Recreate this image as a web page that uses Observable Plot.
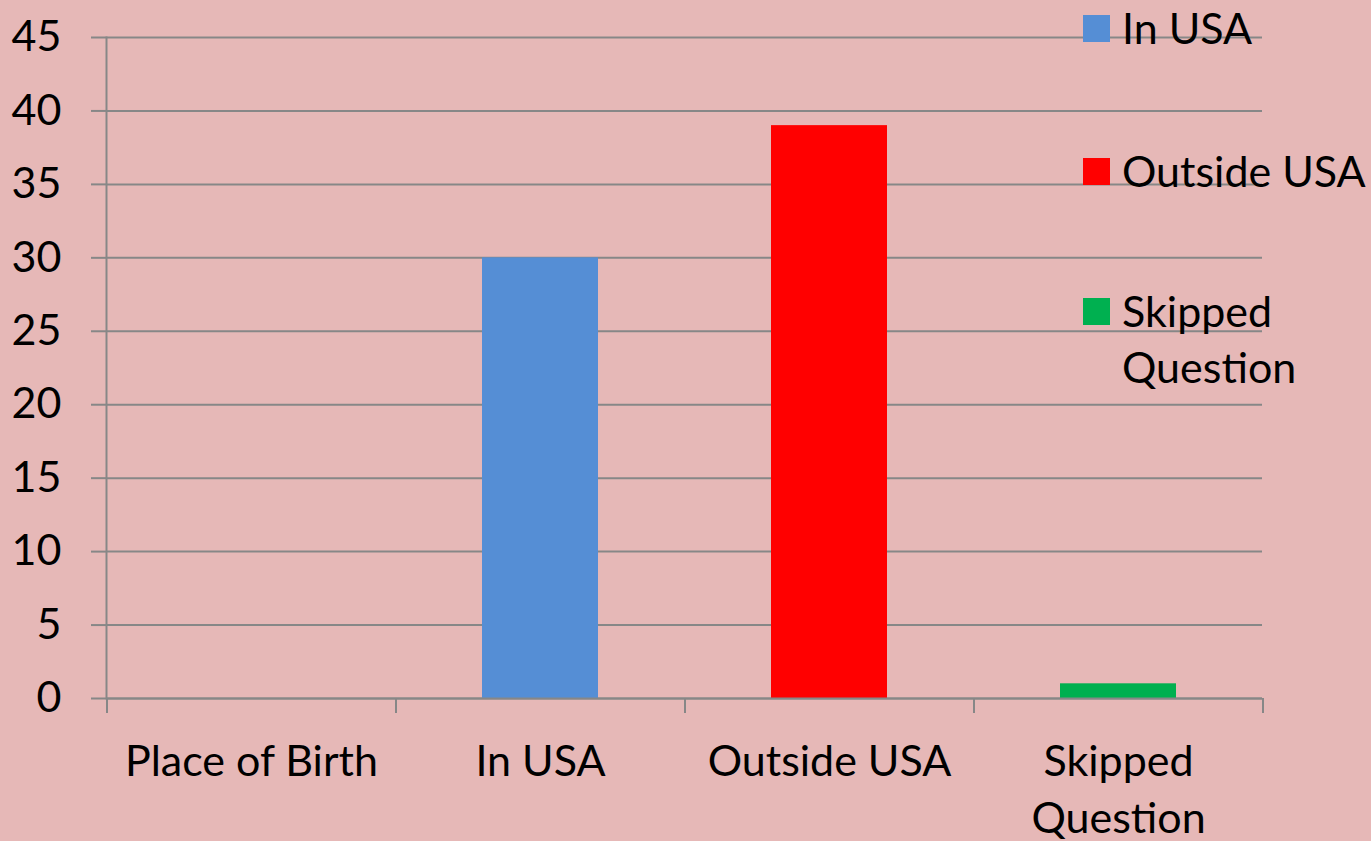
<!DOCTYPE html>
<html>
<head>
<meta charset="utf-8">
<script src="https://cdn.jsdelivr.net/npm/d3@7"></script>
<script src="https://cdn.jsdelivr.net/npm/@observablehq/plot@0.6"></script>
<style>
  html, body { margin: 0; padding: 0; background: #E6B8B7; }
  #wrap { position: relative; width: 1371px; height: 841px; overflow: hidden; font-family: Lato, "Open Sans", sans-serif; }
  #legend { position: absolute; left: 0; top: 0; width: 1371px; height: 841px; pointer-events: none; }
  .item { position: absolute; left: 1083px; width: 288px; }
  .sw { position: absolute; left: 0; top: 15px; width: 27px; height: 27px; }
  .lb { position: absolute; left: 39px; top: 0; width: 245px; font-size: 43px; line-height: 56px; color: #000; }
</style>
</head>
<body>
<div id="wrap"><div id="chart"></div><div id="legend"></div></div>
<script>
// Data
const categories = ["Place of Birth", "In USA", "Outside USA", "Skipped Question"];
const values = [null, 30, 39, 1];
const xTickLabels = ["Place of Birth", "In USA", "Outside USA", "Skipped\nQuestion"];
const seriesNames = ["In USA", "Outside USA", "Skipped Question"];
const seriesColors = ["#558ED5", "#FF0000", "#00B050"];
const yTicks = [0, 5, 10, 15, 20, 25, 30, 35, 40, 45];

const W = 1371, H = 841;
const mL = 106, mR = 109, mT = 37, mB = 143;
const step = (W - mL - mR) / categories.length;
const gridColor = "#878787";

const barData = categories
  .map((c, i) => ({category: c, value: values[i]}))
  .filter(d => d.value != null);

const chart = Plot.plot({
  width: W,
  height: H,
  marginLeft: mL,
  marginRight: mR,
  marginTop: mT,
  marginBottom: mB,
  style: {background: "transparent", fontFamily: "Lato, 'Open Sans', sans-serif", fontSize: "43px", color: "#000", overflow: "visible"},
  x: {domain: categories, paddingInner: 0.6, paddingOuter: 0.3, label: null},
  y: {domain: [0, 45], label: null},
  color: {domain: seriesNames, range: seriesColors},
  marks: [
    Plot.gridY(yTicks, {stroke: gridColor, strokeOpacity: 1, strokeWidth: 2}),
    Plot.barY(barData, {x: "category", y: "value", fill: "category"}),
    Plot.ruleY([0], {stroke: gridColor, strokeWidth: 2}),
    Plot.ruleX(categories, {x: d => d, dx: -step / 2, y1: 0, y2: 0, insetBottom: -15, stroke: gridColor, strokeWidth: 2}),
    Plot.ruleX([categories[categories.length - 1]], {x: d => d, dx: step / 2, y1: 0, y2: 0, insetBottom: -15, stroke: gridColor, strokeWidth: 2}),
    Plot.frame({anchor: "left", stroke: gridColor, strokeWidth: 2}),
    Plot.axisY(yTicks, {tickSize: 15, tickPadding: 30, stroke: gridColor, strokeWidth: 2, fontSize: 43, fill: "#000", label: null, tickFormat: d => String(d)}),
    Plot.axisX({tickSize: 0, tickPadding: 37, fontSize: 43, fill: "#000", lineHeight: 1.32, label: null,
      tickFormat: d => xTickLabels[categories.indexOf(d)]})
  ]
});
document.getElementById("chart").appendChild(chart);

// Legend (overlay, top-right)
const legend = document.getElementById("legend");
const legendTops = [0, 143, 283];
seriesNames.forEach((name, i) => {
  const item = document.createElement("div");
  item.className = "item";
  item.style.top = legendTops[i] + "px";
  const sw = document.createElement("div");
  sw.className = "sw";
  sw.style.background = seriesColors[i];
  const lb = document.createElement("div");
  lb.className = "lb";
  lb.textContent = name;
  item.appendChild(sw);
  item.appendChild(lb);
  legend.appendChild(item);
});
</script>
</body>
</html>
